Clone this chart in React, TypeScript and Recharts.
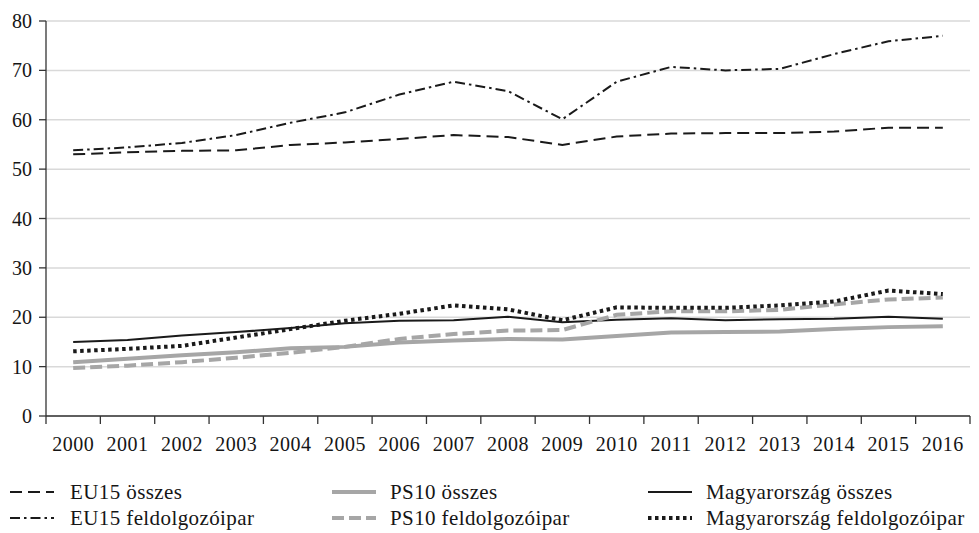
import React from "react";
import { LineChart, Line, XAxis, YAxis, CartesianGrid } from "recharts";

const YEARS = [
  "2000", "2001", "2002", "2003", "2004", "2005", "2006", "2007", "2008",
  "2009", "2010", "2011", "2012", "2013", "2014", "2015", "2016",
];

const EU15_TOTAL = [53.0, 53.4, 53.7, 53.8, 54.9, 55.4, 56.1, 56.9, 56.5, 54.9, 56.6, 57.2, 57.3, 57.3, 57.6, 58.4, 58.4];
const EU15_MFG = [53.8, 54.4, 55.3, 56.9, 59.4, 61.5, 65.1, 67.7, 65.8, 60.1, 67.7, 70.7, 70.0, 70.3, 73.3, 75.9, 77.0];
const PS10_TOTAL = [10.9, 11.6, 12.3, 12.9, 13.7, 14.0, 14.9, 15.3, 15.6, 15.5, 16.2, 16.9, 17.0, 17.1, 17.6, 18.0, 18.2];
const PS10_MFG = [9.7, 10.2, 10.9, 11.8, 12.8, 14.0, 15.6, 16.6, 17.3, 17.4, 20.5, 21.2, 21.2, 21.5, 22.6, 23.6, 24.0];
const HU_TOTAL = [15.0, 15.4, 16.3, 17.0, 17.8, 18.8, 19.3, 19.4, 20.1, 19.0, 19.5, 19.8, 19.4, 19.6, 19.7, 20.1, 19.7];
const HU_MFG = [13.1, 13.6, 14.2, 15.9, 17.6, 19.3, 20.7, 22.4, 21.6, 19.4, 22.0, 21.9, 21.9, 22.4, 23.2, 25.4, 24.7];

const Y_TICKS = [0, 10, 20, 30, 40, 50, 60, 70, 80];

const data = YEARS.map((y, i) => ({
  i,
  year: y,
  eu15Total: EU15_TOTAL[i],
  eu15Mfg: EU15_MFG[i],
  ps10Total: PS10_TOTAL[i],
  ps10Mfg: PS10_MFG[i],
  huTotal: HU_TOTAL[i],
  huMfg: HU_MFG[i],
}));

const FONT = "'Liberation Serif', 'DejaVu Serif', serif";
const INK = "#1a1a1a";
const GREY = "#a6a6a6";
const TEXT = "#151515";

const W = 979;
const H = 456;
const M = { top: 21, right: 9, bottom: 0, left: 0 };
const Y_W = 46;
const PLOT_W = W - M.left - M.right - Y_W;
const HALF = PLOT_W / YEARS.length / 2;

const SERIES = [
  { key: "eu15Total", name: "EU15 összes", color: INK, width: 2, dash: "12 6" },
  { key: "ps10Total", name: "PS10 összes", color: GREY, width: 4, dash: undefined },
  { key: "huTotal", name: "Magyarország összes", color: INK, width: 2, dash: undefined },
  { key: "eu15Mfg", name: "EU15 feldolgozóipar", color: INK, width: 2, dash: "10 4 2.5 4" },
  { key: "ps10Mfg", name: "PS10 feldolgozóipar", color: GREY, width: 4, dash: "12 5" },
  { key: "huMfg", name: "Magyarország feldolgozóipar", color: INK, width: 4, dash: "3.5 3.5" },
];

function YearTick(props: any) {
  const { x, y, payload, index } = props;
  const top = y - 10;
  return (
    <g>
      <line x1={x - HALF} x2={x - HALF} y1={top} y2={top + 8} stroke="#333" strokeWidth={1.3} />
      {index === YEARS.length - 1 && (
        <line x1={x + HALF} x2={x + HALF} y1={top} y2={top + 8} stroke="#333" strokeWidth={1.3} />
      )}
      <text x={x} y={y + 25} textAnchor="middle" fontFamily={FONT} fontSize={20} letterSpacing={0.5} fill={TEXT}>
        {YEARS[payload.value]}
      </text>
    </g>
  );
}

function LegendIcon({ color, width, dash }: { color: string; width: number; dash?: string }) {
  return (
    <svg width={44} height={10} style={{ display: "block" }}>
      <line x1={0} x2={44} y1={5} y2={5} stroke={color} strokeWidth={width} strokeDasharray={dash} />
    </svg>
  );
}

const LEGEND_COLS = [
  { icon: 10, text: 70 },
  { icon: 332, text: 390 },
  { icon: 648, text: 706 },
];
const LEGEND_ROWS = [492, 518];

export default function App() {
  return (
    <div style={{ position: "absolute", left: 0, top: 0, width: W, height: 533, background: "#fff" }}>
      <LineChart width={W} height={H} data={data} margin={M}>
        <CartesianGrid vertical={false} stroke="#d9d9d9" strokeWidth={1.5} />
        <XAxis
          dataKey="i"
          type="number"
          domain={[-0.5, YEARS.length - 0.5]}
          ticks={data.map((d) => d.i)}
          interval={0}
          height={40}
          tickLine={false}
          tickSize={8}
          axisLine={{ stroke: "#333", strokeWidth: 1.3 }}
          tick={<YearTick />}
        />
        <YAxis
          domain={[0, 80]}
          ticks={Y_TICKS}
          width={Y_W}
          tickSize={7}
          tickMargin={7}
          axisLine={{ stroke: "#333", strokeWidth: 1.3 }}
          tickLine={{ stroke: "#333", strokeWidth: 1.3 }}
          tick={{ fontFamily: FONT, fontSize: 20, fill: TEXT }}
        />
        {SERIES.map((s) => (
          <Line
            key={s.key}
            type="linear"
            dataKey={s.key}
            name={s.name}
            stroke={s.color}
            strokeWidth={s.width}
            strokeDasharray={s.dash}
            dot={false}
            activeDot={false}
            isAnimationActive={false}
          />
        ))}
      </LineChart>
      {SERIES.map((s, k) => {
        const col = LEGEND_COLS[k % 3];
        const row = LEGEND_ROWS[Math.floor(k / 3)];
        return (
          <React.Fragment key={s.key}>
            <div style={{ position: "absolute", left: col.icon, top: row - 5 }}>
              <LegendIcon color={s.color} width={s.width} dash={s.dash} />
            </div>
            <div
              style={{
                position: "absolute",
                left: col.text,
                top: row - 13,
                fontFamily: FONT,
                fontSize: 21,
                letterSpacing: 0.4,
                lineHeight: "26px",
                color: TEXT,
                whiteSpace: "nowrap",
              }}
            >
              {s.name}
            </div>
          </React.Fragment>
        );
      })}
    </div>
  );
}
